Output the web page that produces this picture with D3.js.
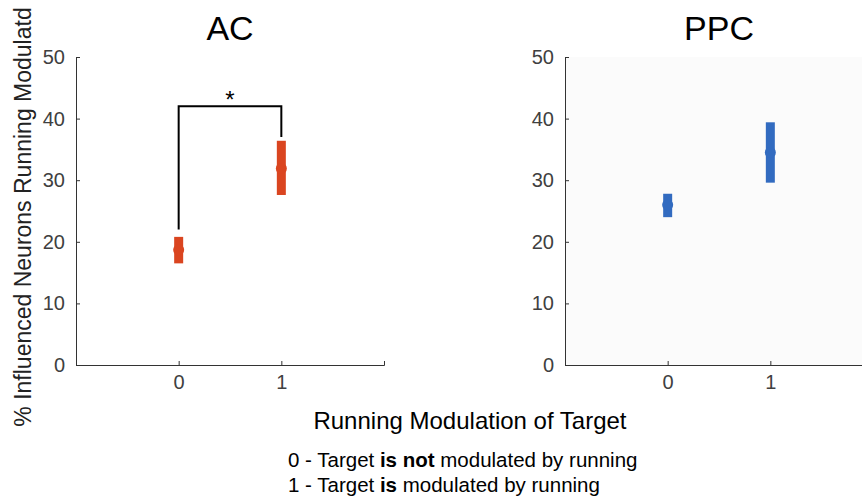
<!DOCTYPE html>
<html>
<head>
<meta charset="utf-8">
<script src="https://cdn.jsdelivr.net/npm/d3@7"></script>
<style>
	body { margin: 0; background: #fff; }
	text { font-family: "Liberation Sans", Arial, sans-serif; }
</style>
</head>
<body>
<div id="chart"></div>
<script>
// data
var categories = [0, 1];
var acMean = [18.7, 31.9];
var acLow = [16.5, 27.6];
var acHigh = [20.8, 36.4];
var ppcMean = [26.0, 34.5];
var ppcLow = [24.0, 29.6];
var ppcHigh = [27.8, 39.4];
var yTicks = [0, 10, 20, 30, 40, 50];
var bracket = [22, 42, 37]; // left foot, top, right foot

var width = 862,
	height = 499;

var svg = d3.select("#chart")
	.append("svg")
	.attr("width", width)
	.attr("height", height);

var y = d3.scaleLinear().domain([0, 50]).range([365, 57]);

function panel(left, title, mean, low, high, color, shade) {
	var x = d3.scaleLinear().domain([-1, 2]).range([left, left + 308]);
	var g = svg.append("g");

	if (shade) {
		g.append("rect")
			.attr("x", left).attr("y", 57)
			.attr("width", width - left).attr("height", 308)
			.attr("fill", "#fbfbfb");
	}

	// axes
	var xAxis = d3.axisBottom(x).tickValues(categories).tickFormat(d3.format("d"))
		.tickSize(-4).tickSizeOuter(-4).tickPadding(10);
	var yAxis = d3.axisLeft(y).tickValues(yTicks).tickFormat(d3.format("d"))
		.tickSize(-4).tickSizeOuter(-4).tickPadding(11);

	g.append("g")
		.attr("transform", "translate(0,365)")
		.call(xAxis);
	g.append("g")
		.attr("transform", "translate(" + left + ",0)")
		.call(yAxis);

	g.selectAll(".domain, .tick line").attr("stroke", "#333");
	g.selectAll(".tick text")
		.attr("fill", "#404040")
		.style("font-size", "20px");

	// error bars
	g.selectAll("rect.err")
		.data(categories)
		.enter()
		.append("rect")
		.attr("class", "err")
		.attr("x", function (d) { return x(d) - 4.5; })
		.attr("y", function (d, i) { return y(high[i]); })
		.attr("width", 9)
		.attr("height", function (d, i) { return y(low[i]) - y(high[i]); })
		.attr("fill", color);

	g.selectAll("circle.mean")
		.data(categories)
		.enter()
		.append("circle")
		.attr("cx", function (d) { return x(d); })
		.attr("cy", function (d, i) { return y(mean[i]); })
		.attr("r", 5.5)
		.attr("fill", color);

	g.append("text")
		.attr("x", (x(-1) + x(2)) / 2)
		.attr("y", 40)
		.attr("text-anchor", "middle")
		.style("font-size", "34px")
		.text(title);

	return x;
}

var xa = panel(76, "AC", acMean, acLow, acHigh, "#da4520", false);
panel(565, "PPC", ppcMean, ppcLow, ppcHigh, "#326bc0", true);

// significance bracket on AC
svg.append("path")
	.attr("d", "M" + xa(0) + "," + y(bracket[0]) + "V" + y(bracket[1]) + "H" + xa(1) + "V" + y(bracket[2]))
	.attr("fill", "none")
	.attr("stroke", "#000")
	.attr("stroke-width", 2);

svg.append("text")
	.attr("x", (xa(0) + xa(1)) / 2)
	.attr("y", y(bracket[1]) + 2)
	.attr("text-anchor", "middle")
	.style("font-size", "24px")
	.text("*");

// y label
svg.append("text")
	.attr("transform", "translate(31,217) rotate(-90)")
	.attr("text-anchor", "middle")
	.attr("fill", "#222")
	.style("font-size", "23px")
	.text("% Influenced Neurons Running Modulatd");

// x label
svg.append("text")
	.attr("x", 470)
	.attr("y", 429)
	.attr("text-anchor", "middle")
	.style("font-size", "24px")
	.text("Running Modulation of Target");

// legend notes
var note1 = svg.append("text").attr("x", 288).attr("y", 467).style("font-size", "20.5px");
note1.append("tspan").text("0 - Target ");
note1.append("tspan").style("font-weight", "bold").text("is not");
note1.append("tspan").text(" modulated by running");

var note2 = svg.append("text").attr("x", 288).attr("y", 492).style("font-size", "20.5px");
note2.append("tspan").text("1 - Target ");
note2.append("tspan").style("font-weight", "bold").text("is");
note2.append("tspan").text(" modulated by running");
</script>
</body>
</html>
